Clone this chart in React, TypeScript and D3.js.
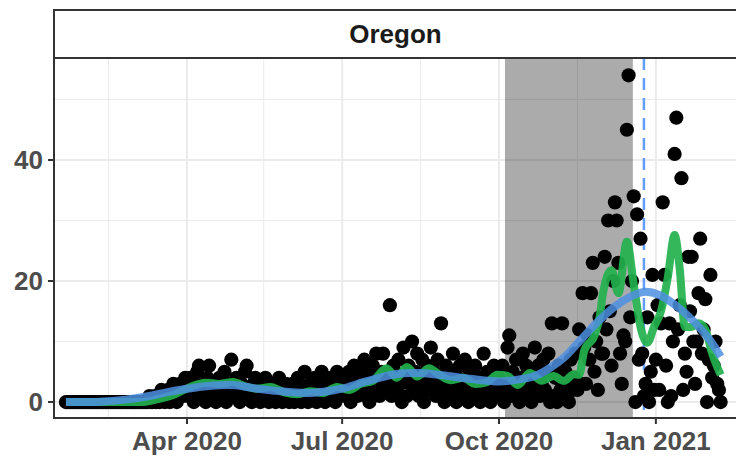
import React from 'react';
import * as d3 from 'd3';

// daily new cases, one array per month (series starts 2020-01-21)
const FIRST_DAY = '2020-01-21';
const casesJan2020 = [0, 0, 0, 0, 0, 0, 0, 0, 0, 0, 0];
const casesFeb2020 = [0, 0, 0, 0, 0, 0, 0, 0, 0, 0, 0, 0, 0, 0, 0, 0, 0, 0, 0, 0, 0, 0, 0, 0, 0, 0, 0, 0, 0];
const casesMar2020 = [0, 0, 0, 0, 0, 0, 0, 0, 0, 1, 0, 0, 1, 0, 1, 0, 2, 1, 0, 1, 2, 0, 1, 3, 1, 0, 2, 3, 2, 1, 4];
const casesApr2020 = [3, 1, 4, 2, 0, 3, 5, 6, 2, 1, 3, 0, 4, 6, 2, 1, 3, 0, 2, 4, 1, 3, 5, 0, 2, 3, 7, 1, 2, 4];
const casesMay2020 = [2, 0, 3, 1, 5, 6, 2, 1, 0, 3, 4, 1, 2, 0, 3, 1, 4, 2, 0, 1, 3, 2, 0, 1, 4, 1, 0, 2, 3, 1, 0];
const casesJun2020 = [1, 3, 0, 2, 4, 1, 0, 2, 5, 1, 0, 3, 2, 1, 4, 0, 1, 3, 5, 2, 0, 1, 2, 4, 1, 3, 0, 5, 2, 1];
const casesJul2020 = [2, 4, 1, 3, 5, 0, 2, 6, 3, 1, 4, 2, 5, 7, 1, 3, 0, 4, 6, 2, 8, 3, 1, 5, 8, 2, 4, 3, 16, 1, 6];
const casesAug2020 = [5, 2, 7, 3, 0, 9, 4, 1, 6, 3, 10, 2, 5, 8, 1, 3, 7, 0, 4, 6, 2, 9, 3, 5, 1, 7, 2, 13, 4, 0, 6];
const casesSep2020 = [3, 1, 5, 8, 2, 0, 4, 6, 1, 3, 7, 2, 0, 5, 3, 1, 6, 2, 4, 0, 3, 8, 1, 5, 2, 0, 4, 6, 1, 3];
const casesOct2020 = [4, 2, 6, 0, 3, 9, 11, 1, 5, 3, 7, 2, 0, 4, 8, 1, 6, 3, 5, 0, 2, 9, 4, 6, 1, 3, 7, 2, 5, 8, 0];
const casesNov2020 = [13, 1, 4, 0, 6, 2, 13, 3, 5, 1, 0, 7, 2, 4, 8, 2, 12, 3, 18, 9, 3, 11, 7, 18, 23, 5, 10, 2, 14, 8];
const casesDec2020 = [8, 24, 12, 30, 15, 6, 20, 33, 30, 23, 8, 3, 11, 10, 45, 54, 14, 20, 34, 0, 31, 7, 27, 8, 1, 3, 14, 0, 5, 21, 2];
const casesJan2021 = [7, 16, 2, 13, 33, 21, 6, 0, 13, 1, 10, 41, 47, 12, 16, 37, 2, 8, 5, 24, 15, 24, 10, 3, 10, 18, 27, 8, 12, 17, 0];
const casesFeb2021 = [7, 21, 4, 6, 10, 3, 2, 0];

// rolling average (green)
const avgDates = [
  '2020-01-21', '2020-03-05', '2020-03-15', '2020-03-25', '2020-04-03', '2020-04-12', '2020-04-20', '2020-04-28',
  '2020-05-05', '2020-05-12', '2020-05-20', '2020-05-28', '2020-06-05', '2020-06-12', '2020-06-20', '2020-06-28',
  '2020-07-05', '2020-07-12', '2020-07-19', '2020-07-27', '2020-08-02', '2020-08-08', '2020-08-14', '2020-08-21',
  '2020-08-27', '2020-09-03', '2020-09-10', '2020-09-17', '2020-09-24', '2020-09-30', '2020-10-06', '2020-10-12',
  '2020-10-19', '2020-10-26', '2020-11-02', '2020-11-08', '2020-11-14', '2020-11-17', '2020-11-20', '2020-11-26',
  '2020-11-29', '2020-12-01', '2020-12-06', '2020-12-10', '2020-12-15', '2020-12-19', '2020-12-23', '2020-12-27',
  '2020-12-31', '2021-01-04', '2021-01-08', '2021-01-12', '2021-01-15', '2021-01-18', '2021-01-22', '2021-01-26',
  '2021-01-30', '2021-02-03', '2021-02-08',
];
const avgValues = [
  0, 0, 0.5, 1.3, 2.5, 3.2, 3.0, 3.3,
  2.6, 2.2, 2.5, 1.6, 1.3, 1.8, 1.5, 2.5,
  2.0, 3.0, 3.5, 5.6, 4.0, 5.8, 4.2, 5.6,
  4.5, 3.6, 4.0, 3.0, 3.3, 4.5, 4.3, 2.8,
  4.8, 3.5, 4.3, 3.5, 4.6, 4.5, 8.5, 11,
  14, 18, 21.8, 18, 26.5, 19.5, 12.4, 9.8,
  12.5, 15, 20.6, 27.6, 22, 12.4, 12.4, 13,
  12, 8, 4.5,
];

// smoothed trend (blue)
const smoothDates = [
  '2020-01-21', '2020-02-10', '2020-02-25', '2020-03-10', '2020-03-20', '2020-04-01', '2020-04-15', '2020-04-28',
  '2020-05-10', '2020-05-25', '2020-06-10', '2020-06-20', '2020-07-01', '2020-07-15', '2020-08-01', '2020-08-15',
  '2020-09-01', '2020-09-15', '2020-10-01', '2020-10-12', '2020-10-22', '2020-10-29', '2020-11-08', '2020-11-18',
  '2020-11-28', '2020-12-08', '2020-12-17', '2020-12-25', '2021-01-03', '2021-01-13', '2021-01-23', '2021-02-01',
  '2021-02-08',
];
const smoothValues = [
  0, 0.05, 0.4, 1.0, 1.6, 2.2, 2.7, 2.8,
  2.3, 1.8, 1.5, 1.7, 2.2, 3.4, 4.6, 4.8,
  4.3, 3.8, 3.4, 3.7, 4.3, 5.3, 7.3, 10.3,
  13.3, 15.8, 17.4, 18.2, 17.7, 15.9, 13.4, 10.5,
  7.5,
];

const shadeRange = ['2020-10-04T12:00:00Z', '2020-12-18T12:00:00Z'];
const markerDate = '2020-12-25';
const xTickDates = ['2020-04-01', '2020-07-01', '2020-10-01', '2021-01-01'];
const xTickLabels = ['Apr 2020', 'Jul 2020', 'Oct 2020', 'Jan 2021'];
const xMinorDates = ['2020-02-15', '2020-05-16', '2020-08-16', '2020-11-16'];
const yTicks = [0, 20, 40];
const yMinorTicks = [10, 30, 50];
const xLimits = ['2020-01-14', '2021-02-17'];
const yLimits = [-2.64, 56.86];
const panelTitle = 'Oregon';

const W = 736;
const H = 456;
const panel = { left: 54, right: 737, top: 58, bottom: 418 };
const stripTop = 10;
const FONT = "'Liberation Sans', Arial, sans-serif";

const parse = (s: string) => new Date(s);

export default function App() {
  const monthly = [
    casesJan2020, casesFeb2020, casesMar2020, casesApr2020, casesMay2020, casesJun2020, casesJul2020,
    casesAug2020, casesSep2020, casesOct2020, casesNov2020, casesDec2020, casesJan2021, casesFeb2021,
  ];
  const start = parse(FIRST_DAY);
  const daily = monthly.flat().map((v, i) => ({ date: d3.utcDay.offset(start, i), value: v }));

  const x = d3.scaleUtc().domain(xLimits.map(parse)).range([panel.left, W]);
  const y = d3.scaleLinear().domain(yLimits).range([panel.bottom, panel.top]);

  const avg = avgDates.map((d, i) => ({ date: parse(d), value: avgValues[i] }));
  const smooth = smoothDates.map((d, i) => ({ date: parse(d), value: smoothValues[i] }));

  const avgLine = d3
    .line<{ date: Date; value: number }>()
    .x((d) => x(d.date))
    .y((d) => y(d.value))
    .curve(d3.curveMonotoneX);
  const smoothLine = d3
    .line<{ date: Date; value: number }>()
    .x((d) => x(d.date))
    .y((d) => y(d.value))
    .curve(d3.curveCatmullRom);

  const sx0 = x(parse(shadeRange[0]));
  const sx1 = x(parse(shadeRange[1]));
  const mx = x(parse(markerDate));

  return (
    <svg
      width={W}
      height={H}
      style={{ position: 'absolute', left: 0, top: 0, display: 'block', background: '#fff' }}
      fontFamily={FONT}
    >
      <defs>
        <clipPath id="panel-clip">
          <rect x={panel.left} y={panel.top} width={panel.right - panel.left} height={panel.bottom - panel.top} />
        </clipPath>
      </defs>

      {/* grid */}
      <g stroke="#ebebeb">
        {yMinorTicks.map((t) => (
          <line key={'ym' + t} x1={panel.left} x2={panel.right} y1={y(t)} y2={y(t)} strokeWidth={1} />
        ))}
        {xMinorDates.map((d) => (
          <line key={'xm' + d} x1={x(parse(d))} x2={x(parse(d))} y1={panel.top} y2={panel.bottom} strokeWidth={1} />
        ))}
        {yTicks.map((t) => (
          <line key={'y' + t} x1={panel.left} x2={panel.right} y1={y(t)} y2={y(t)} strokeWidth={2} />
        ))}
        {xTickDates.map((d) => (
          <line key={'x' + d} x1={x(parse(d))} x2={x(parse(d))} y1={panel.top} y2={panel.bottom} strokeWidth={2} />
        ))}
      </g>

      <g clipPath="url(#panel-clip)">
        <rect x={sx0} y={panel.top} width={sx1 - sx0} height={panel.bottom - panel.top} fill="#000" fillOpacity={0.33} />
        <line x1={mx} x2={mx} y1={panel.top} y2={panel.bottom} stroke="#619CFF" strokeWidth={2.5} strokeDasharray="12,8" />
        <g fill="#000">
          {daily.map((d, i) => (
            <circle key={i} cx={x(d.date)} cy={y(d.value)} r={7.1} />
          ))}
        </g>
        <path d={avgLine(avg) ?? ''} fill="none" stroke="#22b14c" strokeOpacity={0.92} strokeWidth={8} strokeLinejoin="round" />
        <path d={smoothLine(smooth) ?? ''} fill="none" stroke="#4d8fe0" strokeOpacity={0.85} strokeWidth={8} />
      </g>

      {/* panel border */}
      <rect
        x={panel.left}
        y={panel.top}
        width={panel.right - panel.left}
        height={panel.bottom - panel.top}
        fill="none"
        stroke="#333"
        strokeWidth={2}
      />

      {/* strip */}
      <rect x={panel.left} y={stripTop} width={panel.right - panel.left} height={panel.top - stripTop} fill="#fff" stroke="#333" strokeWidth={2} />
      <text
        x={(panel.left + panel.right) / 2}
        y={(stripTop + panel.top) / 2 + 9}
        textAnchor="middle"
        fontSize={26}
        fontWeight="bold"
        fill="#1a1a1a"
      >
        {panelTitle}
      </text>

      {/* y axis */}
      {yTicks.map((t) => (
        <g key={'yt' + t}>
          <line x1={panel.left - 6} x2={panel.left} y1={y(t)} y2={y(t)} stroke="#333" strokeWidth={2} />
          <text x={panel.left - 11} y={y(t) + 9} textAnchor="end" fontSize={26} fontWeight="bold" fill="#4d4d4d">
            {t}
          </text>
        </g>
      ))}

      {/* x axis */}
      {xTickDates.map((d, i) => (
        <g key={'xt' + d}>
          <line x1={x(parse(d))} x2={x(parse(d))} y1={panel.bottom} y2={panel.bottom + 6} stroke="#333" strokeWidth={2} />
          <text x={x(parse(d))} y={450} textAnchor="middle" fontSize={26} fontWeight="bold" fill="#4d4d4d">
            {xTickLabels[i]}
          </text>
        </g>
      ))}
    </svg>
  );
}
